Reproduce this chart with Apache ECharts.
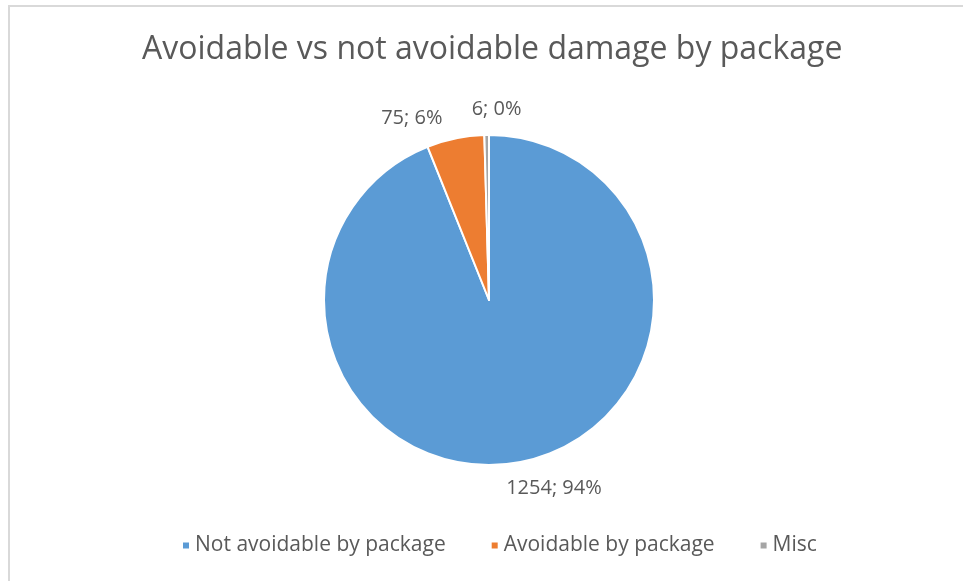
<!DOCTYPE html>
<html>
<head>
<meta charset="utf-8">
<script src="https://cdn.jsdelivr.net/npm/echarts@6/dist/echarts.min.js"></script>
<style>
html,body{margin:0;padding:0;background:#fff;}
#chart{width:963px;height:581px;}
#lt{position:absolute;left:8px;top:5px;width:955px;height:2px;background:#d9d9d9;}
#ll{position:absolute;left:8px;top:5px;width:2px;height:576px;background:#d9d9d9;}
</style>
</head>
<body>
<div id="chart"></div>
<div id="lt"></div>
<div id="ll"></div>
<script>
const categories = ["Not avoidable by package", "Avoidable by package", "Misc"];
const values = [1254, 75, 6];
const colors = ["#5B9BD5", "#ED7D31", "#A5A5A5"];
const titleText = "Avoidable vs not avoidable damage by package";

const total = values.reduce((a, b) => a + b, 0);
// small nudges of the outside labels (Excel-like placement)
const labelNudge = [[-21, 16], [-6, -10], [40, -16]];
const chart = echarts.init(document.getElementById('chart'));
chart.setOption({
  animation: false,
  title: {
    text: titleText,
    left: 137,
    top: 29,
    textStyle: { fontFamily: 'Open Sans', fontSize: 32, fontWeight: 'normal', color: '#595959' }
  },
  legend: {
    bottom: 20,
    left: 176,
    itemWidth: 8,
    itemHeight: 8,
    itemGap: 44,
    icon: 'rect',
    textStyle: { fontFamily: 'Open Sans', fontSize: 21, color: '#595959' },
    data: categories
  },
  series: [{
    type: 'pie',
    center: [489, 300],
    radius: 165,
    startAngle: 90,
    clockwise: true,
    avoidLabelOverlap: false,
    minShowLabelAngle: 0,
    itemStyle: { borderColor: '#fff', borderWidth: 2 },
    label: {
      show: true,
      position: 'outside',
      fontFamily: 'Open Sans',
      fontSize: 20,
      color: '#595959',
      formatter: p => p.value + '; ' + Math.round(p.value / total * 100) + '%'
    },
    labelLine: { show: false, length: 10, length2: 0 },
    labelLayout: p => ({ dx: labelNudge[p.dataIndex][0], dy: labelNudge[p.dataIndex][1], hideOverlap: false }),
    data: categories.map((c, i) => ({ name: c, value: values[i], itemStyle: { color: colors[i] } }))
  }]
});
</script>
</body>
</html>
